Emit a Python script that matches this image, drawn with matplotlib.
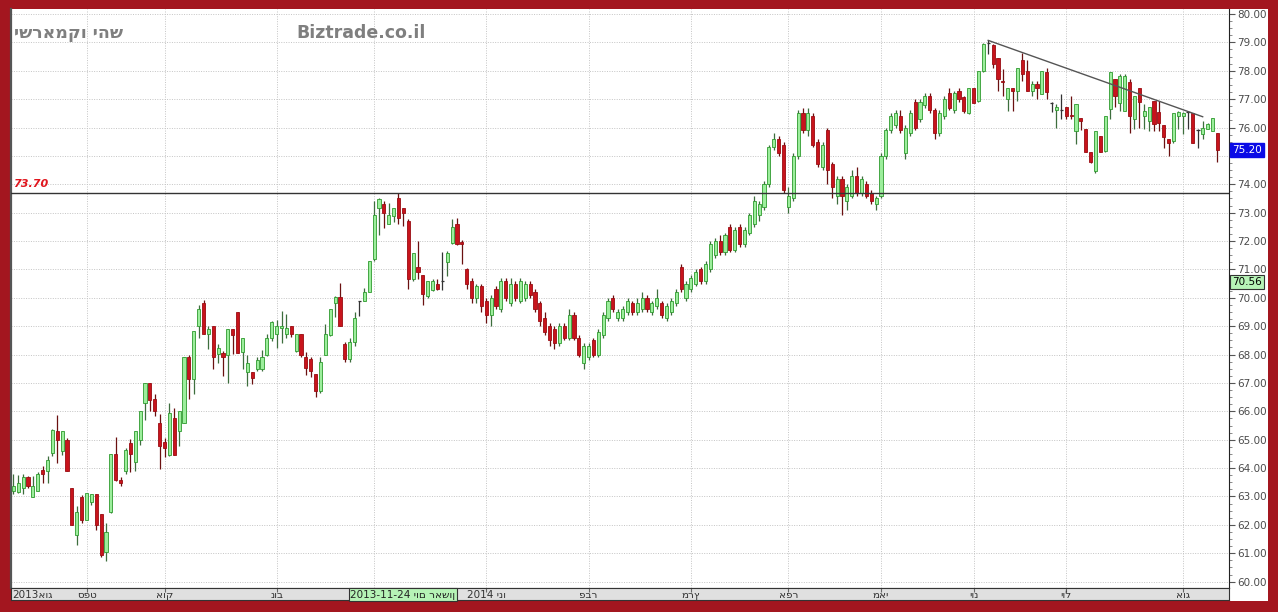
import matplotlib
matplotlib.use("Agg")
import matplotlib.pyplot as plt
import matplotlib.transforms as mtransforms
from matplotlib.patches import Rectangle

# daily OHLC, Aug 2013 - Aug 2014
opens = [
    63.18, 63.15, 63.29, 63.70, 62.98, 63.18, 63.92, 63.88, 64.53, 65.29,
    64.59, 65.00, 63.29, 61.65, 62.98, 62.18, 62.79, 63.09, 62.39, 61.06,
    62.47, 64.51, 63.59, 63.90, 64.89, 64.20, 64.98, 66.28, 67.01, 66.42,
    65.60, 64.91, 64.47, 65.77, 65.30, 65.60, 67.90, 67.13, 69.00, 69.82,
    68.72, 69.00, 68.02, 68.05, 67.98, 68.90, 69.51, 68.09, 67.40, 67.39,
    67.48, 67.48, 68.00, 68.60, 68.72, 68.93, 68.72, 69.01, 68.13, 68.72,
    67.93, 67.84, 67.30, 66.71, 68.00, 68.69, 69.82, 70.02, 68.37, 67.85,
    68.45, 69.88, 69.88, 70.20, 71.38, 73.18, 73.29, 72.61, 72.88, 73.53,
    73.18, 72.71, 70.67, 71.09, 70.82, 70.06, 70.29, 70.49, 70.62, 71.26,
    71.92, 72.60, 71.95, 71.00, 70.60, 70.00, 70.40, 69.90, 69.40, 70.30,
    69.60, 70.60, 69.80, 70.50, 69.90, 70.00, 70.50, 70.20, 69.80, 69.30,
    69.00, 68.90, 68.40, 69.00, 68.60, 69.40, 68.60, 67.70, 67.90, 68.50,
    68.00, 68.70, 69.30, 70.00, 69.30, 69.30, 69.50, 69.80, 69.50, 69.60,
    70.00, 69.50, 69.70, 69.80, 69.30, 69.50, 69.80, 71.10, 70.00, 70.30,
    70.50, 71.00, 70.60, 71.00, 71.50, 72.00, 71.60, 72.50, 71.70, 72.50,
    71.90, 72.30, 72.60, 72.90, 73.20, 74.00, 75.30, 75.60, 75.40, 73.20,
    73.50, 75.00, 76.50, 75.90, 76.40, 75.50, 74.60, 75.90, 74.70, 73.60,
    74.20, 73.40, 73.60, 74.30, 73.70, 74.00, 73.70, 73.30, 73.60, 75.00,
    75.90, 76.10, 76.40, 75.10, 75.80, 76.90, 76.30, 76.80, 77.10, 76.60,
    75.80, 76.40, 77.20, 76.60, 77.30, 77.06, 76.50, 77.41, 76.94, 78.00,
    78.94, 78.90, 78.44, 77.65, 77.00, 77.38, 77.29, 78.39, 78.00, 77.29,
    77.53, 77.18, 77.94, 76.90, 76.62, 76.60, 76.71, 76.45, 75.88, 76.35,
    75.94, 75.12, 74.47, 75.71, 75.18, 76.65, 77.71, 76.88, 76.59, 77.59,
    76.29, 77.41, 76.39, 76.24, 76.94, 76.53, 76.08, 75.59, 75.53, 76.39,
    76.39, 76.55, 76.50, 75.95, 75.76, 75.96, 75.88, 75.80,
]
highs = [
    63.80, 63.76, 63.80, 63.73, 63.73, 63.85, 64.06, 64.41, 65.38, 65.88,
    65.29, 65.06, 63.29, 62.65, 63.06, 63.12, 63.09, 63.09, 62.39, 62.06,
    64.51, 65.09, 63.68, 64.70, 65.03, 65.30, 66.00, 67.01, 67.01, 66.60,
    65.89, 65.06, 66.30, 66.13, 66.00, 67.90, 67.98, 68.84, 69.73, 69.94,
    69.00, 69.00, 68.37, 68.13, 68.90, 68.90, 69.51, 68.60, 68.00, 67.39,
    67.90, 68.17, 68.72, 69.19, 69.22, 69.54, 69.43, 69.01, 68.72, 68.72,
    68.10, 67.93, 67.30, 67.93, 69.07, 69.59, 70.08, 70.53, 68.45, 68.60,
    69.50, 69.90, 70.35, 71.29, 73.41, 73.53, 73.41, 73.35, 73.18, 73.68,
    73.18, 72.79, 71.59, 72.00, 70.82, 70.59, 70.65, 70.67, 71.62, 71.65,
    72.76, 72.80, 72.05, 71.05, 70.70, 70.50, 70.50, 70.00, 70.10, 70.40,
    70.70, 70.70, 70.70, 70.60, 70.70, 70.60, 70.60, 70.30, 69.90, 69.50,
    69.10, 69.00, 69.10, 69.10, 69.60, 69.50, 68.70, 68.40, 68.40, 68.60,
    68.90, 69.50, 70.00, 70.10, 69.60, 69.70, 70.00, 69.90, 70.00, 70.20,
    70.10, 69.90, 70.30, 69.90, 69.80, 70.00, 70.30, 71.20, 70.60, 70.80,
    71.00, 71.10, 71.30, 72.00, 72.10, 72.20, 72.30, 72.60, 72.50, 72.60,
    72.50, 73.00, 73.60, 73.40, 74.10, 75.40, 75.80, 75.70, 75.50, 73.90,
    75.10, 76.60, 76.70, 76.70, 76.50, 75.60, 75.50, 76.00, 74.80, 74.30,
    74.30, 74.00, 74.50, 74.60, 74.30, 74.10, 73.80, 73.60, 75.10, 76.00,
    76.50, 76.60, 76.60, 76.10, 76.60, 77.00, 77.00, 77.20, 77.20, 76.70,
    76.60, 77.10, 77.40, 77.30, 77.40, 77.10, 77.41, 77.41, 78.00, 78.97,
    79.09, 78.94, 78.44, 78.06, 77.41, 77.40, 78.08, 78.62, 78.39, 77.65,
    77.65, 78.00, 78.08, 76.90, 76.82, 77.18, 76.71, 77.12, 76.82, 76.35,
    75.94, 75.12, 75.88, 75.71, 76.41, 77.94, 77.71, 77.88, 77.88, 77.71,
    77.12, 77.41, 76.82, 76.74, 76.94, 76.94, 76.08, 75.59, 76.50, 76.59,
    76.53, 76.59, 76.50, 75.96, 76.24, 76.15, 76.32, 75.80,
]
lows = [
    63.09, 63.12, 63.10, 63.29, 62.98, 63.18, 63.49, 63.47, 64.41, 64.18,
    64.47, 63.88, 62.00, 61.29, 62.08, 62.18, 62.71, 61.82, 60.88, 60.71,
    62.41, 63.53, 63.38, 63.80, 63.85, 63.88, 64.80, 65.71, 66.00, 65.83,
    63.97, 64.39, 64.42, 64.47, 64.77, 65.60, 66.42, 66.60, 68.60, 68.72,
    68.19, 67.50, 67.72, 67.25, 67.01, 68.02, 68.07, 67.48, 66.90, 66.96,
    67.42, 67.42, 67.96, 68.48, 68.24, 68.39, 68.60, 68.62, 68.10, 67.93,
    67.27, 67.21, 66.50, 66.66, 68.00, 68.67, 69.31, 68.99, 67.75, 67.75,
    68.30, 69.35, 69.88, 70.20, 71.29, 72.22, 72.47, 72.59, 72.67, 72.59,
    72.53, 70.32, 70.59, 70.65, 69.76, 69.98, 70.24, 70.29, 70.29, 70.76,
    71.88, 71.85, 71.20, 70.30, 69.80, 69.80, 69.50, 69.10, 69.00, 69.60,
    69.50, 69.90, 69.70, 69.90, 69.80, 69.90, 70.00, 69.50, 69.00, 68.70,
    68.30, 68.20, 68.30, 68.50, 68.50, 68.50, 67.90, 67.50, 67.80, 67.90,
    67.90, 68.60, 69.20, 69.50, 69.20, 69.20, 69.40, 69.40, 69.40, 69.50,
    69.50, 69.40, 69.60, 69.30, 69.20, 69.40, 69.70, 70.20, 69.90, 70.20,
    70.40, 70.50, 70.50, 70.90, 71.40, 71.50, 71.50, 71.60, 71.60, 71.80,
    71.80, 72.20, 72.50, 72.70, 73.10, 73.90, 75.20, 75.00, 73.70, 73.00,
    73.40, 74.90, 75.80, 75.70, 75.30, 74.60, 74.50, 74.00, 73.50, 73.30,
    72.90, 73.10, 73.50, 73.60, 73.60, 73.50, 73.30, 73.10, 73.50, 74.90,
    75.80, 76.00, 75.80, 74.90, 75.70, 75.90, 76.20, 76.70, 76.50, 75.60,
    75.70, 76.30, 76.60, 76.50, 76.90, 76.50, 76.47, 76.88, 76.90, 77.95,
    78.59, 78.08, 77.30, 77.12, 76.59, 76.59, 76.94, 77.65, 77.29, 77.12,
    77.00, 77.18, 77.00, 76.53, 75.98, 76.29, 76.29, 76.29, 75.41, 75.90,
    75.12, 74.76, 74.41, 75.12, 75.12, 76.29, 76.71, 76.59, 76.59, 75.82,
    75.94, 76.00, 75.94, 75.88, 75.88, 75.88, 75.29, 75.00, 75.47, 75.94,
    75.76, 75.94, 75.47, 75.29, 75.59, 75.94, 75.88, 74.79,
]
closes = [
    63.38, 63.47, 63.70, 63.38, 63.38, 63.80, 63.80, 64.29, 65.33, 64.98,
    65.29, 63.88, 62.00, 62.47, 62.18, 63.12, 63.09, 62.00, 60.94, 61.76,
    64.51, 63.59, 63.47, 64.65, 64.51, 65.30, 66.00, 67.01, 66.40, 66.00,
    64.79, 64.71, 65.93, 64.47, 66.00, 67.90, 67.13, 68.84, 69.61, 68.72,
    68.90, 67.90, 68.22, 67.93, 68.90, 68.69, 68.07, 68.60, 67.72, 67.19,
    67.81, 67.90, 68.60, 69.13, 69.01, 69.01, 68.93, 68.72, 68.72, 67.99,
    67.51, 67.42, 66.71, 67.73, 68.72, 69.59, 70.02, 68.99, 67.85, 68.45,
    69.30, 69.88, 70.20, 71.29, 72.90, 73.49, 72.98, 72.91, 73.18, 72.82,
    73.00, 70.67, 71.59, 70.91, 70.12, 70.59, 70.59, 70.31, 70.60, 71.59,
    72.51, 71.90, 71.90, 70.50, 70.00, 70.40, 69.70, 69.40, 70.00, 69.70,
    70.60, 70.00, 70.50, 70.00, 70.60, 70.50, 70.10, 69.60, 69.20, 68.80,
    68.50, 68.40, 69.00, 68.60, 69.40, 68.60, 68.00, 68.30, 68.30, 68.00,
    68.80, 69.40, 69.90, 69.60, 69.50, 69.60, 69.90, 69.50, 69.80, 70.00,
    69.60, 69.80, 70.00, 69.40, 69.70, 69.90, 70.20, 70.30, 70.50, 70.70,
    70.90, 70.60, 71.20, 71.90, 72.00, 71.60, 72.20, 71.70, 72.40, 71.90,
    72.40, 72.90, 73.40, 73.30, 74.00, 75.30, 75.60, 75.10, 73.80, 73.60,
    75.00, 76.50, 75.90, 76.50, 75.40, 74.70, 75.40, 74.50, 73.90, 74.20,
    73.60, 73.90, 74.30, 73.70, 74.20, 73.60, 73.40, 73.50, 75.00, 75.90,
    76.40, 76.50, 75.90, 76.00, 76.50, 76.00, 76.90, 77.10, 76.60, 75.80,
    76.50, 77.00, 76.70, 77.20, 77.00, 76.59, 77.41, 76.88, 78.00, 78.94,
    78.97, 78.24, 77.70, 77.60, 77.41, 77.30, 78.08, 77.88, 77.29, 77.53,
    77.41, 78.00, 77.24, 76.88, 76.74, 76.62, 76.39, 76.40, 76.82, 76.24,
    75.12, 74.79, 75.88, 75.12, 76.41, 77.94, 77.12, 77.82, 77.82, 76.39,
    77.12, 76.90, 76.59, 76.74, 76.12, 76.15, 75.68, 75.47, 76.50, 76.53,
    76.50, 76.53, 75.47, 75.92, 76.00, 76.12, 76.32, 75.21,
]

# month starts (candle index) and their labels, as drawn on the band
month_idx = [15, 31, 54, 74, 97, 118, 139, 159, 178, 197, 216, 240]
month_names = ["ספט", "אוק", "נוב", "דצמ", "2014 ינו", "פבר", "מרץ",
               "אפר", "מאי", "יונ", "יול", "אוג"]
first_month = "2013אוג"

trend_x = [200, 244]
trend_y = [79.07, 76.38]
support_level = 73.70
last_price = 75.20
cursor_price = 70.56
cursor_label = "2013-11-24 יום ראשון"
title_he = "ישראמקו יהש"
site = "Biztrade.co.il"

W, H = 1278, 612
fig = plt.figure(figsize=(W / 100, H / 100), dpi=100)
fig.patch.set_facecolor("#A3161F")
fig.patches.append(Rectangle((11 / W, (H - 601) / H), 1257 / W, 592 / H,
                             transform=fig.transFigure, fc="white", ec="none", zorder=-5))

ax = fig.add_axes([11 / W, (H - 588) / H, 1218 / W, 579 / H])
ax.set_zorder(1)
ax.set_facecolor("white")
ax.set_xlim(-0.5, 249.4)
ax.set_ylim(59.775, 80.176)

n = len(closes)
for i in range(n):
    o, h, l, c = opens[i], highs[i], lows[i], closes[i]
    if abs(c - o) < 0.04:
        ax.vlines(i, l, h, color="#333333", lw=0.9, zorder=3)
        ax.hlines(c, i - 0.35, i + 0.35, color="#333333", lw=0.9, zorder=3)
        continue
    up = c > o
    wick = "#3d6e3d" if up else "#6a1010"
    ax.vlines(i, l, h, color=wick, lw=0.9, zorder=3)
    ax.bar(i, abs(c - o), bottom=min(o, c), width=0.64,
           color="#9cee9c" if up else "#c8141c",
           edgecolor="#2f9a2f" if up else "#9a0c12", lw=0.6, zorder=4)

ax.axhline(support_level, color="#333333", lw=1.0, zorder=5)
ax.plot(trend_x, trend_y, color="#555555", lw=1.0, zorder=5)

# right price scale (75.00 sits under the last-price box)
ax.yaxis.tick_right()
ax.set_yticks(range(60, 81))
ax.set_yticklabels(["" if v == 75 else f"{v:.2f}" for v in range(60, 81)])
ax.set_yticks([60 + k * 0.25 for k in range(81)], minor=True)
ax.tick_params(axis="y", which="major", length=4, width=0.8, color="#555555",
               labelsize=7.5, labelcolor="#4a4a4a", pad=2)
ax.tick_params(axis="y", which="minor", length=2, width=0.6, color="#777777")
ax.set_xticks(month_idx)
ax.tick_params(axis="x", length=0, labelbottom=False)
ax.grid(True, color="#c4c4c4", lw=0.7, ls=(0, (1, 1.5)), zorder=0)
ax.set_axisbelow(True)
ax.spines["top"].set_visible(False)
ax.spines["left"].set_color("#555555")
ax.spines["left"].set_linewidth(1.6)
ax.spines["right"].set_color("#222222")
ax.spines["bottom"].set_color("#222222")

ax.text(0.002, support_level + 0.12, f"{support_level:.2f}", transform=ax.get_yaxis_transform(),
        color="#e0161e", fontsize=8, fontweight="bold", fontstyle="italic", va="bottom", ha="left")

bt = mtransforms.blended_transform_factory(ax.transAxes, ax.transData)
ax.text(1.0025, last_price, f"{last_price:.2f}", transform=bt, color="white", fontsize=7.5,
        va="center", ha="left", clip_on=False, zorder=10,
        bbox=dict(boxstyle="square,pad=0.18", fc="#0b0be6", ec="#0b0be6"))
ax.text(1.0025, cursor_price, f"{cursor_price:.2f}", transform=bt, color="black", fontsize=7.5,
        va="center", ha="left", clip_on=False, zorder=10,
        bbox=dict(boxstyle="square,pad=0.2", fc="#b6f3b6", ec="#333333", lw=0.8))

# month band under the plot
bax = fig.add_axes([11 / W, (H - 600) / H, 1218 / W, 12 / H])
bax.set_zorder(2)
bax.set_facecolor("#e0e0e0")
bax.set_xlim(ax.get_xlim())
bax.set_ylim(0, 1)
bax.set_yticks([])
bax.set_xticks(month_idx)
bax.tick_params(axis="x", direction="in", top=True, bottom=False, length=3,
                color="#666666", labelbottom=False)
for s in bax.spines.values():
    s.set_color("#333333")
    s.set_linewidth(0.8)
bax.text(-0.2, 0.45, first_month, fontsize=7.5, color="#333333", ha="left", va="center")
for xi, name in zip(month_idx, month_names):
    if name == "דצמ":
        continue  # hidden under the cursor date box
    bax.text(xi, 0.45, name, fontsize=7.5, color="#333333", ha="center", va="center")
bax.text(69.1, 0.45, cursor_label, fontsize=7.5, color="#222222",
         ha="left", va="center", zorder=10,
         bbox=dict(boxstyle="square,pad=0.12", fc="#b6f3b6", ec="#333333", lw=0.8))

fig.text(14 / W, 1 - 33 / H, title_he, fontsize=12.5, fontweight="bold",
         color="#7f7f7f", ha="left", va="center", zorder=5)
fig.text(296 / W, 1 - 33 / H, site, fontsize=12.5, fontweight="bold",
         color="#7f7f7f", ha="left", va="center", zorder=5)

fig.savefig("out.png", dpi=100, facecolor=fig.get_facecolor())
